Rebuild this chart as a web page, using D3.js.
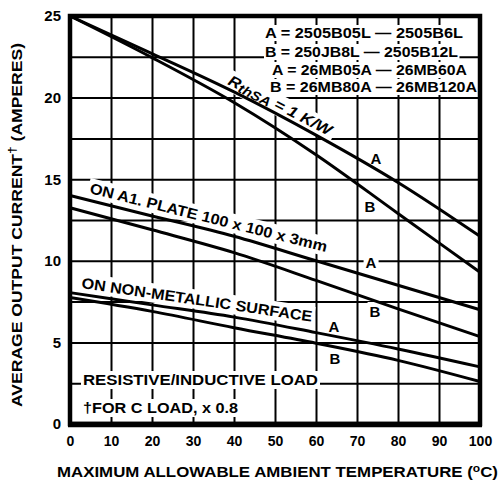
<!DOCTYPE html>
<html>
<head>
<meta charset="utf-8">
<script src="https://cdn.jsdelivr.net/npm/d3@7"></script>
<style>
  body { margin: 0; background: #fff; }
  svg text { font-family: "Liberation Sans", Arial, sans-serif; font-weight: bold; fill: #000; }
</style>
</head>
<body>
<div id="chart"></div>
<script>
// values (temp in degC, current in A)
const temps = [0, 20, 40, 60, 80, 100]
const rthA = [25, 22.7, 20.35, 17.7, 14.8, 11.5]
const rthB = [25, 22.45, 19.7, 16.5, 12.9, 9.3]
const plateA = [14.0, 12.75, 11.5, 10.0, 8.5, 7.0]
const plateB = [13.25, 11.9, 10.5, 8.8, 7.05, 5.35]
const nonMetA = [8.05, 7.3, 6.55, 5.6, 4.6, 3.5]
const nonMetB = [7.75, 6.9, 5.9, 4.95, 3.9, 2.6]

const xTicks = [0, 10, 20, 30, 40, 50, 60, 70, 80, 90, 100]
const yTicks = [0, 5, 10, 15, 20, 25]
const legendLines = ["A = 2505B05L \u2014 2505B6L", "B = 250JB8L \u2014 2505B12L",
                     "A = 26MB05A \u2014 26MB60A", "B = 26MB80A \u2014 26MB120A"]

const width = 499, height = 482
const x = d3.scaleLinear().domain([0, 100]).range([70, 480])
const y = d3.scaleLinear().domain([0, 25]).range([424, 16])

const svg = d3.select("#chart").append("svg")
  .attr("width", width).attr("height", height)

// grid (10 degC / 2.5 A)
const gridX = svg.append("g").attr("transform", `translate(0,${y(0)})`)
  .call(d3.axisBottom(x).tickValues(d3.range(10, 100, 10)).tickSize(-(y(0) - y(25))).tickFormat(""))
const gridY = svg.append("g").attr("transform", `translate(${x(0)},0)`)
  .call(d3.axisLeft(y).tickValues(d3.range(2.5, 25, 2.5)).tickSize(-(x(100) - x(0))).tickFormat(""))
;[gridX, gridY].forEach(g => {
  g.select(".domain").remove()
  g.selectAll("line").attr("stroke", "#000").attr("stroke-width", 2)
})

const maskLayer = svg.append("g")
const curveLayer = svg.append("g")
const textLayer = svg.append("g")

// text with a white box behind it that hides the grid
function label(px, py, str, opts = {}) {
  const size = opts.size || 14
  const gm = maskLayer.append("g").attr("transform", `translate(${px},${py}) rotate(${opts.angle || 0})`)
  const gt = textLayer.append("g").attr("transform", `translate(${px},${py}) rotate(${opts.angle || 0})`)
  const t = gt.append("text").attr("font-size", size).attr("text-anchor", opts.anchor || "start")
  if (opts.len) t.attr("textLength", opts.len).attr("lengthAdjust", "spacingAndGlyphs")
  if (opts.build) opts.build(t); else t.text(str)
  const bb = t.node().getBBox()
  const pad = opts.pad == null ? 2 : opts.pad
  gm.append("rect").attr("x", bb.x - pad).attr("y", bb.y + 1 - pad)
    .attr("width", bb.width + 2 * pad).attr("height", bb.height - 2 + 2 * pad).attr("fill", "#fff")
  return t
}

// legend
const legendY = [38, 57, 75, 92]
const legendX = [265, 265, 272, 270]
const legendLen = [198, 193, 195, 207]
legendLines.forEach((s, i) => label(legendX[i], legendY[i], s, { len: legendLen[i], size: 14, pad: 1 }))

// curve annotations
label(227, 84, "", { angle: 27, size: 15, len: 114, build: t => {
  t.attr("font-style", "italic")
  t.append("tspan").text("R")
  t.append("tspan").attr("font-size", 13).attr("dy", 2).text("thSA")
  t.append("tspan").attr("dy", -2).text(" = 1 K/W")
}})
label(89, 193, "ON A1. PLATE 100 x 100 x 3mm", { angle: 14, size: 15, len: 244 })
label(81, 288, "ON NON-METALLIC SURFACE", { angle: 8.3, size: 15, len: 233 })

const abLabels = [["A", 376, 164], ["B", 370, 212], ["A", 371, 268], ["B", 375, 317], ["A", 334, 332], ["B", 335, 364]]
abLabels.forEach(([s, px, py]) => label(px, py, s, { anchor: "middle", size: 15 }))

label(83, 385, "RESISTIVE/INDUCTIVE LOAD", { size: 14, len: 235 })
label(83, 413, "\u2020FOR C LOAD, x 0.8", { size: 14, len: 155 })

// curves
const line = d3.line().x(d => x(d[0])).y(d => y(d[1])).curve(d3.curveMonotoneX)
const series = [rthA, rthB, plateA, plateB, nonMetA, nonMetB]
curveLayer.selectAll("path").data(series).enter().append("path")
  .attr("d", s => line(temps.map((t, i) => [t, s[i]])))
  .attr("fill", "none").attr("stroke", "#000").attr("stroke-width", 3)

// frame
svg.append("rect").attr("x", x(0)).attr("y", y(25))
  .attr("width", x(100) - x(0)).attr("height", y(0) - y(25))
  .attr("fill", "none").attr("stroke", "#000").attr("stroke-width", 4.5)
svg.append("line").attr("x1", x(0) - 2).attr("x2", x(100) + 2).attr("y1", y(0) + 0.5).attr("y2", y(0) + 0.5)
  .attr("stroke", "#000").attr("stroke-width", 5.5)

// tick labels
const yAxis = svg.append("g").attr("transform", `translate(${x(0)},0)`)
  .call(d3.axisLeft(y).tickValues(yTicks).tickSize(0).tickPadding(9))
const xAxis = svg.append("g").attr("transform", `translate(0,${y(0)})`)
  .call(d3.axisBottom(x).tickValues(xTicks).tickSize(0).tickPadding(12))
;[xAxis, yAxis].forEach(g => {
  g.select(".domain").remove()
  g.selectAll("text").attr("font-size", 14).attr("font-family", null)
})
yAxis.selectAll("text").attr("font-size", 15)

// axis titles
const xt = svg.append("text").attr("x", 57).attr("y", 477).attr("font-size", 14)
  .attr("textLength", 441).attr("lengthAdjust", "spacingAndGlyphs")
xt.append("tspan").text("MAXIMUM ALLOWABLE AMBIENT TEMPERATURE (")
xt.append("tspan").attr("font-size", 10).attr("dy", -5).text("o")
xt.append("tspan").attr("dy", 5).text("C)")

const yt = svg.append("text").attr("transform", "translate(22,225) rotate(-90)")
  .attr("text-anchor", "middle").attr("font-size", 14)
  .attr("textLength", 364).attr("lengthAdjust", "spacingAndGlyphs")
yt.append("tspan").text("AVERAGE OUTPUT CURRENT")
yt.append("tspan").attr("font-size", 11).attr("dy", -6).text("\u2020")
yt.append("tspan").attr("dy", 6).text(" (AMPERES)")
</script>
</body>
</html>
